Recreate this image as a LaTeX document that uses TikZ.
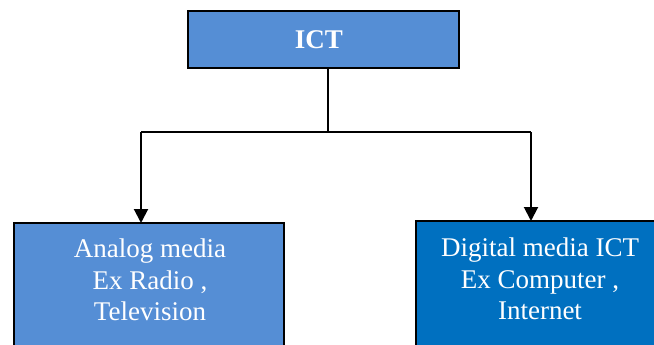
\documentclass[tikz,border=0pt]{standalone}
\usepackage{fontspec}
\setmainfont{Liberation Serif}
\usetikzlibrary{arrows.meta}
\definecolor{lightbluebox}{RGB}{85,142,213}
\definecolor{darkbluebox}{RGB}{0,112,192}
\begin{document}
\begin{tikzpicture}[x=1pt,y=-1pt,
  boxstyle/.style={draw=black,line width=2pt},
  txt/.style={text=white,font=\fontsize{27}{31.5}\selectfont,align=center,inner sep=0pt},
  conn/.style={line width=2pt},
  arr/.style={line width=2pt,-{Triangle[width=14pt,length=14pt]}}]
\clip (0,0) rectangle (654,345);
\useasboundingbox (0,0) rectangle (654,345);
% top box
\draw[boxstyle,fill=lightbluebox] (188,11) rectangle (459,68);
\node[txt,font=\fontsize{27}{31.5}\selectfont\bfseries] (ict) at (319,39.5) {ICT};
\coordinate (ictb) at (328,68);
% left box
\draw[boxstyle,fill=lightbluebox] (14,223) rectangle (284,360);
\node[txt] (analog) at (150,280) {Analog media\\Ex Radio ,\\Television};
% right box
\draw[boxstyle,fill=darkbluebox] (416,221) rectangle (670,360);
\node[txt] (digital) at (540,279) {Digital media ICT\\Ex Computer ,\\Internet};
\coordinate (lt) at (141,223);
\coordinate (rt) at (531,221);
\coordinate (j) at (328,132);
\coordinate (jl) at (141,132);
\coordinate (jr) at (531,132);
\draw[conn] (ictb) -- (j);
\draw[conn] (jl) -- (jr);
\draw[arr] (jl) -- (lt);
\draw[arr] (jr) -- (rt);
\end{tikzpicture}
\end{document}
